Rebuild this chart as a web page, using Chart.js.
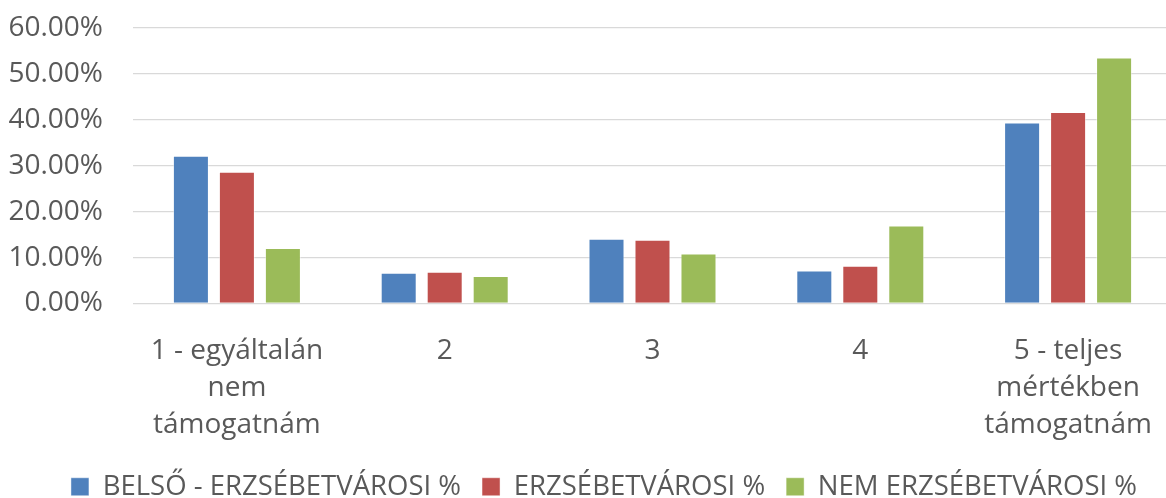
<!DOCTYPE html>
<html>
<head>
<meta charset="utf-8">
<script src="https://cdn.jsdelivr.net/npm/chart.js@4.4.1/dist/chart.umd.min.js"></script>
<style>
  html, body { margin: 0; padding: 0; background: #ffffff; }
  #frame { width: 1166px; height: 498px; overflow: hidden; position: relative; }
  #box { width: 1180px; height: 520px; position: absolute; left: 0; top: 0; }
</style>
</head>
<body>
<div id="frame"><div id="box"><canvas id="chart"></canvas></div></div>
<script>
// Survey answers on a 1–5 support scale
const categories = [
  ['1 - egyáltalán', 'nem', 'támogatnám'],
  '2',
  '3',
  '4',
  ['5 - teljes', 'mértékben', 'támogatnám']
];
const seriesNames = ['BELSŐ - ERZSÉBETVÁROSI %', 'ERZSÉBETVÁROSI %', 'NEM ERZSÉBETVÁROSI %'];
const belsoErzsebetvarosi = [32.2, 6.7, 14.1, 7.2, 39.4];
const erzsebetvarosi = [28.7, 6.9, 13.9, 8.2, 41.7];
const nemErzsebetvarosi = [12.1, 6.0, 10.9, 17.0, 53.6];
const yTicks = [0, 10, 20, 30, 40, 50, 60];

const textColor = '#595959';
const fontFamily = '"Open Sans", "Liberation Sans", sans-serif';

function series(label, data, color) {
  return {
    label: label,
    data: data,
    backgroundColor: color,
    borderColor: 'rgba(255,255,255,0.45)',
    borderWidth: 1,
    categoryPercentage: 0.664,
    barPercentage: 0.783
  };
}

// Nudge the legend row to the right of the canvas centre
const legendShift = {
  id: 'legendShift',
  afterLayout(chart) {
    const lg = chart.legend;
    if (lg) { lg.left += 18; lg.right += 18; }
  }
};

new Chart(document.getElementById('chart'), {
  type: 'bar',
  data: {
    labels: categories,
    datasets: [
      series(seriesNames[0], belsoErzsebetvarosi, '#4F81BD'),
      series(seriesNames[1], erzsebetvarosi, '#C0504D'),
      series(seriesNames[2], nemErzsebetvarosi, '#9BBB59')
    ]
  },
  plugins: [legendShift],
  options: {
    responsive: true,
    maintainAspectRatio: false,
    animation: false,
    layout: { padding: { top: 28, left: 0, right: 8, bottom: 9.5 } },
    plugins: {
      tooltip: { enabled: false },
      legend: {
        position: 'bottom',
        labels: {
          color: textColor,
          font: { family: fontFamily, size: 27.5 },
          boxWidth: 18,
          boxHeight: 18,
          padding: 21
        }
      }
    },
    scales: {
      x: {
        grid: { display: false },
        border: { display: false },
        ticks: {
          color: textColor,
          font: { family: fontFamily, size: 28, lineHeight: 37 / 28 },
          padding: 21,
          maxRotation: 0,
          autoSkip: false
        },
        afterFit: function (scale) { scale.height = 148.5; }
      },
      y: {
        min: 0,
        max: 60,
        afterBuildTicks: function (scale) {
          scale.ticks = yTicks.map(function (v) { return { value: v }; });
        },
        grid: { color: '#d9d9d9', lineWidth: 1.3, drawTicks: false },
        border: { display: false },
        ticks: {
          color: textColor,
          font: { family: fontFamily, size: 28 },
          padding: 30,
          callback: function (v) { return v.toFixed(2) + '%'; }
        },
        afterFit: function (scale) {
          scale.width = 133;
          scale.paddingTop = 0;
          scale.paddingBottom = 0;
        }
      }
    }
  }
});
</script>
</body>
</html>
